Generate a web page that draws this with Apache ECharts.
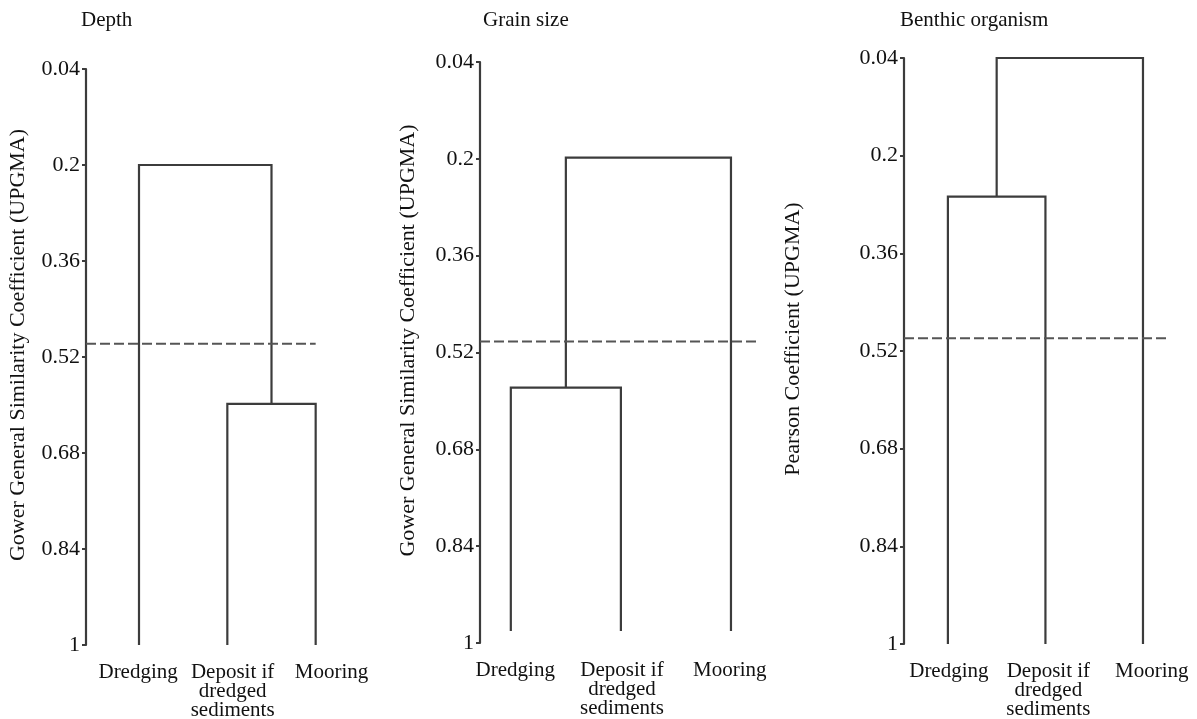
<!DOCTYPE html>
<html>
<head>
<meta charset="utf-8">
<script src="https://cdn.jsdelivr.net/npm/echarts@6/dist/echarts.min.js"></script>
<style>
  html, body { margin: 0; padding: 0; background: #fff; }
  #chart { width: 1197px; height: 719px; }
</style>
</head>
<body>
<div id="chart"></div>
<script>
// leaves (same order in all three dendrograms)
const leafNames = ['Dredging', 'Deposit if\ndredged\nsediments', 'Mooring'];
const yTicks = [0.04, 0.2, 0.36, 0.52, 0.68, 0.84, 1];
const panelTitles = ['Depth', 'Grain size', 'Benthic organism'];
const yAxisNames = [
  'Gower General Similarity Coefficient (UPGMA)',
  'Gower General Similarity Coefficient (UPGMA)',
  'Pearson Coefficient (UPGMA)'
];
// height where leaf stems start
const leafBase = [1, 0.98, 1];
// merges: [node a, node b, height]; nodes 0-2 are leaves (x = 1, 2, 3), 3+ are clusters
const depthMerges = [[1, 2, 0.598], [0, 3, 0.2]];
const grainMerges = [[0, 1, 0.578], [3, 2, 0.198]];
const benthicMerges = [[0, 1, 0.267], [3, 2, 0.04]];
// cut-off line: level and right end (leaf units)
const cutLevels = [0.498, 0.502, 0.499];
const cutEnds = [3, 3.23, 3.25];
// where the leaf names sit in the original figure (leaf units)
const labelPos = [
  [0.99, 2.06, 3.18],
  [1.04, 2.01, 2.99],
  [1.01, 2.03, 3.09]
];

const FONT = 'Liberation Serif';
const LINE_COLOR = '#3c3c3c';

// panel layout
const layout = [
  { left: 86, top: 69, width: 265, height: 576, xMin: 0.4, xMax: 3.4, nameGap: 57, titleLeft: 81 },
  { left: 480, top: 62, width: 295, height: 581, xMin: 0.72, xMax: 3.4, nameGap: 61, titleLeft: 483 },
  { left: 904, top: 58, width: 278, height: 586, xMin: 0.55, xMax: 3.4, nameGap: 100, titleLeft: 900 }
];

function buildSegments(merges, base) {
  // node -> {x, h}
  const nodes = leafNames.map((_, i) => ({ x: i + 1, h: base }));
  const segs = [];
  merges.forEach(([a, b, h]) => {
    const na = nodes[a], nb = nodes[b];
    segs.push({ coords: [[na.x, na.h], [na.x, h], [nb.x, h], [nb.x, nb.h]] });
    nodes.push({ x: (na.x + nb.x) / 2, h: h });
  });
  return segs;
}

const allMerges = [depthMerges, grainMerges, benthicMerges];
const chart = echarts.init(document.getElementById('chart'));

const option = {
  animation: false,
  backgroundColor: '#fff',
  title: panelTitles.map((t, i) => ({
    text: t,
    left: layout[i].titleLeft,
    top: 10,
    padding: 0,
    textStyle: { fontFamily: FONT, fontSize: 21, fontWeight: 'normal', color: '#111' }
  })),
  grid: layout.map(l => ({
    left: l.left, top: l.top, width: l.width, height: l.height,
    outerBoundsMode: 'none'
  })),
  xAxis: layout.map((l, i) => ({
    type: 'value',
    gridIndex: i,
    min: l.xMin,
    max: l.xMax,
    axisLine: { show: false },
    axisTick: { show: false },
    splitLine: { show: false },
    axisLabel: {
      customValues: labelPos[i],
      formatter: v => {
        let k = 0;
        labelPos[i].forEach((p, j) => { if (Math.abs(p - v) < Math.abs(labelPos[i][k] - v)) k = j; });
        return leafNames[k];
      },
      hideOverlap: false,
      margin: 18,
      fontFamily: FONT,
      fontSize: 21,
      lineHeight: 19,
      color: '#111',
      align: 'center'
    }
  })),
  yAxis: layout.map((l, i) => ({
    type: 'value',
    gridIndex: i,
    inverse: true,
    min: 0.04,
    max: 1,
    name: yAxisNames[i],
    nameLocation: 'middle',
    nameGap: l.nameGap,
    nameTextStyle: { fontFamily: FONT, fontSize: 22, color: '#111', padding: [0, 0, 0, 24] },
    axisLine: { show: true, lineStyle: { color: LINE_COLOR, width: 2.2 } },
    axisTick: { show: true, customValues: yTicks, length: 4, lineStyle: { color: LINE_COLOR, width: 2 } },
    splitLine: { show: false },
    axisLabel: {
      customValues: yTicks,
      formatter: v => String(+v.toFixed(2)),
      margin: 6,
      fontFamily: FONT,
      fontSize: 22,
      color: '#111'
    }
  })),
  series: []
};

allMerges.forEach((merges, i) => {
  option.series.push({
    type: 'lines',
    coordinateSystem: 'cartesian2d',
    xAxisIndex: i,
    yAxisIndex: i,
    polyline: true,
    silent: true,
    lineStyle: { color: LINE_COLOR, width: 2.2, opacity: 1 },
    data: buildSegments(merges, leafBase[i])
  });
  option.series.push({
    type: 'line',
    xAxisIndex: i,
    yAxisIndex: i,
    symbol: 'none',
    silent: true,
    lineStyle: { color: '#555', width: 2, type: [10, 4] },
    data: [[layout[i].xMin, cutLevels[i]], [cutEnds[i], cutLevels[i]]]
  });
});

chart.setOption(option);
window.addEventListener('resize', () => chart.resize());
</script>
</body>
</html>
